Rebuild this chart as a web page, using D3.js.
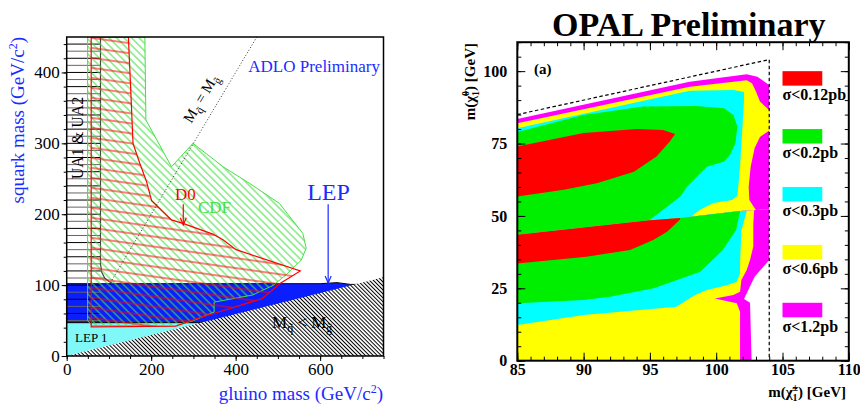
<!DOCTYPE html>
<html>
<head>
<meta charset="utf-8">
<style>
body { margin: 0; background: #fff; }
svg { display: block; }
text { font-family: "Liberation Serif", "Times New Roman", serif; }
</style>
</head>
<body>
<script src="https://cdn.jsdelivr.net/npm/d3@7"></script>
<script>
// ---------- left panel: squark / gluino mass plane (GeV/c^2) ----------
var lep1Zone   = [[0,0],[0,47],[318,47]];
var lepZone    = [[0,47],[0,102],[600,102],[640,103.5],[672,101],[690,101],[690,47]];
var forbidZone = [[0,0],[750,111],[750,0]];            // Mq < Mg
var uaZone     = [[0,47],[0,450],[80,450],[80,130],[83,118],[90,110],[100,105],[110,102],[80,102],[80,47]];
var uaEdge     = [[80,450],[80,130],[83,118],[90,110],[100,105],[110,102]];
var d0Zone = [[58,450],[146,450],[152,370],[157,300],[173,272],[189,246],[201,219],[248,192],
              [275,187],[346,172],[370,164],[401,150],[553,120],[506,102.5],[463,81],[348,60],
              [309,53],[258,42],[58,41]];
var cdfZone = [[49.5,450],[185,450],[187.5,333],[248,267],[299,300],[370,267],[433,243.5],
               [504,215],[559,173],[567,152],[555,135],[520,115],[490,100],[440,86],[349,76],
               [349,62],[300,50],[260,43],[60,43],[49.5,50]];
var diagLine = [[100,100],[450,450]];                  // Mq = Mg
var uaLevels = d3.range(50, 450, 10);
var xTicksL = [0,200,400,600], xMinorL = d3.range(0, 751, 50);
var yTicksL = [0,100,200,300,400], yMinorL = d3.range(0, 451, 20);

// ---------- right panel: OPAL chargino / neutralino (GeV) ----------
var splitEdge = [[85,43.5],[94.8,48.4],[97.3,49.3],[101.8,51.7],[104,52.3]];
var upMagenta = [[85,40],[85,83.5],[98,96.3],[102.3,98.9],[103.1,98.1],[104,95.2],[104,40]];
var upYellow  = [[85,40],[85,82],[98,94.6],[102.3,96.9],[102.7,95.8],[103,93],[103.3,89.5],[104,86.5],
                 [104,79.5],[103.3,77.3],[102.9,73.5],[102.6,67],[102.45,60],[102.5,55.5],[103,52],[103,40]];
var upCyan    = [[85,40],[85,80.3],[98,93.2],[101.3,93.5],[102.1,92.8],[102.1,90],[101.95,78.5],[101.8,67],
                 [101.6,57],[101.2,55.5],[99.8,54.5],[98.8,52.2],[98,49.5],[98,40]];
var upGreen   = [[85,40],[85,79],[90,84.9],[94.5,87.8],[98.5,88],[100.6,87.2],[101.3,84.9],[101.6,80.9],
                 [101.45,75.1],[101.05,71.1],[100.6,68.8],[99.3,67],[98.8,64.7],[97.8,60.1],[97.3,56.7],
                 [96,52.1],[94.9,48.3],[94.9,40]];
var upRed     = [[85,56.7],[85,74],[90,78.6],[94,80],[96,79.7],[96.9,78.3],[96.5,75.7],[95.5,70.5],
                 [93.8,65.3],[91,61.3],[88.5,59]];
var loMagenta = [[85,0],[85,55],[104,55],[104,34.8],[102.9,29],[102.3,23.3],[102.1,21.3],[102.55,20],[102.67,0]];
var loYellow  = [[85,0],[85,55],[102.9,55],[102.8,47.4],[102.8,39.4],[102.55,34.8],[102.3,31.3],[101.9,27.9],
                 [101.8,23.8],[101.3,22.7],[99.9,21.5],[101.55,19.8],[101.8,16.9],[101.8,0]];
var loCyan    = [[85,12.3],[85,55],[102.3,55],[102.3,51.5],[101.9,45.1],[101.8,33.6],[101.8,30.2],[101.55,27.3],
                 [100.8,26.1],[99.3,24.4],[98.4,22.7],[97,18.6],[94.25,17.5],[90,15.8]];
var loGreen   = [[85,19.8],[85,55],[101.8,55],[101.8,51.5],[101.5,45.1],[100.5,38.2],[98.8,30.7],[95.3,25],
                 [92,22.1],[90,21]];
var loRed     = [[85,33.6],[85,55],[97.5,55],[97.27,48.8],[96.3,44.5],[95.25,41.7],[93.5,38.2],[90.2,35.9]];
var limitLine = [[85,85],[104,104],[104,0]];
var sigmaColors = ["#ff0000","#00ee00","#00ffff","#ffff00","#ff00ff"];
var sigmaLabels = ["\u03c3<0.12pb","\u03c3<0.2pb","\u03c3<0.3pb","\u03c3<0.6pb","\u03c3<1.2pb"];
var legendTops  = [100,80,60,40,20];
var xTicksR = [85,90,95,100,105,110], yTicksR = [0,25,50,75,100];

var width = 860, height = 408;
var svg = d3.select("body").append("svg").attr("width", width).attr("height", height);
var defs = svg.append("defs");

function hatch(id, size, angle, color, sw, bg) {
  var p = defs.append("pattern").attr("id", id)
      .attr("patternUnits", "userSpaceOnUse")
      .attr("width", size).attr("height", size)
      .attr("patternTransform", "rotate(" + angle + ")");
  if (bg) p.append("rect").attr("width", size).attr("height", size).attr("fill", bg);
  p.append("line").attr("x1", 0).attr("x2", size).attr("y1", size / 2).attr("y2", size / 2)
      .attr("stroke", color).attr("stroke-width", sw);
}
hatch("hForbid", 2.8, 45, "#000", 1, "#fff");
hatch("hCdf", 5.3, 45, "#44e044", 1, null);
hatch("hD0", 9.9, 8, "#ff0000", 1, null);

// ===================== LEFT PANEL =====================
var xL = d3.scaleLinear().domain([0, 750]).range([66.7, 383.5]);
var yL = d3.scaleLinear().domain([0, 450]).range([356, 37]);
var lineL = d3.line().x(d => xL(d[0])).y(d => yL(d[1]));

defs.append("clipPath").attr("id", "clipL").append("rect")
    .attr("x", xL(0)).attr("y", yL(450)).attr("width", xL(750) - xL(0)).attr("height", yL(0) - yL(450));
defs.append("clipPath").attr("id", "clipUA").append("path").attr("d", lineL(uaZone) + "Z");

var gL = svg.append("g");
var plotL = gL.append("g").attr("clip-path", "url(#clipL)");

plotL.append("path").attr("d", lineL(lep1Zone) + "Z").attr("fill", "#80f8f8");
plotL.append("path").attr("d", lineL(lepZone) + "Z").attr("fill", "#0a1eff")
    .attr("stroke", "#000").attr("stroke-width", 1);

// UA1 & UA2 horizontal hatching
plotL.append("g").attr("clip-path", "url(#clipUA)")
  .selectAll("line").data(uaLevels).enter().append("line")
    .attr("x1", xL(0)).attr("x2", xL(120))
    .attr("y1", d => yL(d)).attr("y2", d => yL(d))
    .attr("stroke", (d, i) => i % 2 ? "#000" : "#666").attr("stroke-width", 1);
plotL.append("path").attr("d", lineL(uaEdge)).attr("fill", "none")
    .attr("stroke", "#444").attr("stroke-width", 1.2);

plotL.append("path").attr("d", lineL(forbidZone) + "Z").attr("fill", "url(#hForbid)");

plotL.append("path").attr("d", lineL(cdfZone) + "Z").attr("fill", "url(#hCdf)")
    .attr("stroke", "#44e044").attr("stroke-width", 1);
plotL.append("path").attr("d", lineL(d0Zone) + "Z").attr("fill", "url(#hD0)")
    .attr("stroke", "#ff0000").attr("stroke-width", 1.2);

plotL.append("path").attr("d", lineL(diagLine)).attr("fill", "none")
    .attr("stroke", "#333").attr("stroke-width", 1).attr("stroke-dasharray", "1,2");

// axes
function styleAxis(g, size, weight) {
  g.select(".domain").remove();
  g.selectAll("text").attr("font-family", "Liberation Serif, serif")
    .attr("font-size", size).attr("font-weight", weight).attr("fill", "#000");
  g.selectAll("line").attr("stroke", "#000");
}
gL.append("g").attr("transform", "translate(0," + yL(0) + ")")
  .call(d3.axisBottom(xL).tickValues(xMinorL).tickSize(3).tickFormat(""))
  .call(styleAxis, 17, "normal");
gL.append("g").attr("transform", "translate(0," + yL(0) + ")")
  .call(d3.axisBottom(xL).tickValues(xTicksL).tickSize(5).tickPadding(2))
  .call(styleAxis, 17, "normal");
gL.append("g").attr("transform", "translate(" + xL(0) + ",0)")
  .call(d3.axisLeft(yL).tickValues(yMinorL).tickSize(3).tickFormat(""))
  .call(styleAxis, 17, "normal");
gL.append("g").attr("transform", "translate(" + xL(0) + ",0)")
  .call(d3.axisLeft(yL).tickValues(yTicksL).tickSize(5).tickPadding(2))
  .call(styleAxis, 17, "normal");

gL.append("rect").attr("x", xL(0)).attr("y", yL(450))
  .attr("width", xL(750) - xL(0)).attr("height", yL(0) - yL(450))
  .attr("fill", "none").attr("stroke", "#000").attr("stroke-width", 1.5);

// labels
var blue = "#1a2cff";
var ylab = gL.append("text").attr("transform", "translate(24,37) rotate(-90)")
  .attr("text-anchor", "end").attr("font-size", 19).attr("fill", blue);
ylab.append("tspan").text("squark mass (GeV/c");
ylab.append("tspan").attr("dy", -7).attr("font-size", 12).text("2");
ylab.append("tspan").attr("dy", 7).text(")");

var xlab = gL.append("text").attr("x", 383).attr("y", 400)
  .attr("text-anchor", "end").attr("font-size", 19).attr("fill", blue);
xlab.append("tspan").text("gluino mass (GeV/c");
xlab.append("tspan").attr("dy", -7).attr("font-size", 12).text("2");
xlab.append("tspan").attr("dy", 7).text(")");

gL.append("text").attr("x", 380).attr("y", 72).attr("text-anchor", "end")
  .attr("font-size", 17).attr("fill", blue).text("ADLO Preliminary");
gL.append("text").attr("x", 328.5).attr("y", 200).attr("text-anchor", "middle")
  .attr("font-size", 24).attr("fill", blue).text("LEP");
gL.append("text").attr("x", 175).attr("y", 200).attr("font-size", 17).attr("fill", "#ff0000").text("D0");
gL.append("text").attr("x", 198).attr("y", 213).attr("font-size", 17).attr("fill", "#44e044").text("CDF");
gL.append("text").attr("x", 75).attr("y", 342).attr("font-size", 13).attr("fill", "#000").text("LEP 1");
gL.append("text").attr("transform", "translate(83,138) rotate(-90)").attr("text-anchor", "middle")
  .attr("font-size", 16).attr("fill", "#000").text("UA1 & UA2");

function arrow(g, x, y0, y1, color) {
  g.append("line").attr("x1", xL(x)).attr("x2", xL(x)).attr("y1", yL(y0)).attr("y2", yL(y1))
    .attr("stroke", color).attr("stroke-width", 1.2);
  g.append("path").attr("d", "M" + (xL(x) - 3) + "," + (yL(y1) - 7) + "L" + xL(x) + "," + yL(y1) +
      "L" + (xL(x) + 3) + "," + (yL(y1) - 7))
    .attr("fill", "none").attr("stroke", color).attr("stroke-width", 1.2);
}
arrow(gL, 619, 214, 103, blue);
arrow(gL, 276, 214, 185, "#ff0000");

var ang = Math.atan2(yL(100) - yL(0), xL(100) - xL(0)) * 180 / Math.PI;
var diagLab = gL.append("text").attr("transform", "translate(205,101) rotate(" + ang + ")")
  .attr("text-anchor", "middle").attr("font-size", 15).attr("fill", "#000");
diagLab.append("tspan").text("M");
diagLab.append("tspan").attr("dy", 4).attr("font-size", 11).text("q\u0303");
diagLab.append("tspan").attr("dy", -4).text(" = M");
diagLab.append("tspan").attr("dy", 4).attr("font-size", 11).text("g\u0303");

var ltLab = gL.append("text").attr("x", 272).attr("y", 328).attr("font-size", 17).attr("fill", "#000");
ltLab.append("tspan").text("M");
ltLab.append("tspan").attr("dy", 4).attr("font-size", 12).text("q\u0303");
ltLab.append("tspan").attr("dy", -4).text(" < M");
ltLab.append("tspan").attr("dy", 4).attr("font-size", 12).text("g\u0303");

// ===================== RIGHT PANEL =====================
var xR = d3.scaleLinear().domain([85, 110]).range([517.3, 848.8]);
var yR = d3.scaleLinear().domain([0, 110]).range([360.7, 42.2]);
var lineR = d3.line().x(d => xR(d[0])).y(d => yR(d[1]));

var upperClip = [[85,110]].concat(splitEdge).concat([[104,110]]);
var lowerClip = [[85,0]].concat(splitEdge).concat([[104,0]]);
defs.append("clipPath").attr("id", "clipUp").append("path").attr("d", lineR(upperClip) + "Z");
defs.append("clipPath").attr("id", "clipLo").append("path").attr("d", lineR(lowerClip) + "Z");

var gR = svg.append("g");
var upper = [upMagenta, upYellow, upCyan, upGreen, upRed];
var lower = [loMagenta, loYellow, loCyan, loGreen, loRed];
var fillOrder = [4, 3, 2, 1, 0];

gR.append("g").attr("clip-path", "url(#clipUp)")
  .selectAll("path").data(upper).enter().append("path")
  .attr("d", d => lineR(d) + "Z").attr("fill", (d, i) => sigmaColors[fillOrder[i]]);
gR.append("g").attr("clip-path", "url(#clipLo)")
  .selectAll("path").data(lower).enter().append("path")
  .attr("d", d => lineR(d) + "Z").attr("fill", (d, i) => sigmaColors[fillOrder[i]]);

gR.append("path").attr("d", lineR(limitLine)).attr("fill", "none")
  .attr("stroke", "#000").attr("stroke-width", 1.2).attr("stroke-dasharray", "3.5,2.5");

// legend
var leg = gR.selectAll(".leg").data(sigmaLabels).enter().append("g");
leg.append("rect").attr("x", xR(105)).attr("y", (d, i) => yR(legendTops[i]))
  .attr("width", xR(108) - xR(105)).attr("height", (d, i) => yR(legendTops[i] - 5) - yR(legendTops[i]))
  .attr("fill", (d, i) => sigmaColors[i]);
leg.append("text").attr("x", xR(105)).attr("y", (d, i) => yR(legendTops[i] - 10))
  .attr("font-size", 16).attr("font-weight", "bold").text(d => d);

// axes (ticks point inward)
function axR(axis, tr) {
  return gR.append("g").attr("transform", tr).call(axis).call(styleAxis, 16, "bold");
}
var atBottom = "translate(0," + yR(0) + ")", atTop = "translate(0," + yR(110) + ")";
var atLeft = "translate(" + xR(85) + ",0)", atRight = "translate(" + xR(110) + ",0)";
axR(d3.axisBottom(xR).tickValues(d3.range(85, 111, 1)).tickSize(-4).tickFormat(""), atBottom);
axR(d3.axisBottom(xR).tickValues(xTicksR).tickSize(-8).tickPadding(3), atBottom);
axR(d3.axisTop(xR).tickValues(d3.range(85, 111, 1)).tickSize(-4).tickFormat(""), atTop);
axR(d3.axisTop(xR).tickValues(xTicksR).tickSize(-8).tickFormat(""), atTop);
axR(d3.axisLeft(yR).tickValues(d3.range(0, 111, 5)).tickSize(-4).tickFormat(""), atLeft);
axR(d3.axisLeft(yR).tickValues(yTicksR).tickSize(-8).tickPadding(10), atLeft);
axR(d3.axisRight(yR).tickValues(d3.range(0, 111, 5)).tickSize(-4).tickFormat(""), atRight);
axR(d3.axisRight(yR).tickValues(yTicksR).tickSize(-8).tickFormat(""), atRight);

gR.append("rect").attr("x", xR(85)).attr("y", yR(110))
  .attr("width", xR(110) - xR(85)).attr("height", yR(0) - yR(110))
  .attr("fill", "none").attr("stroke", "#000").attr("stroke-width", 2);

gR.append("text").attr("x", 552).attr("y", 36).attr("font-size", 34).attr("font-weight", "bold")
  .text("OPAL Preliminary");
gR.append("text").attr("x", 534).attr("y", 74).attr("font-size", 15).attr("font-weight", "bold")
  .text("(a)");

var yl = gR.append("text").attr("transform", "translate(475,43) rotate(-90)")
  .attr("text-anchor", "end").attr("font-size", 15).attr("font-weight", "bold");
yl.append("tspan").text("m(\u03c7\u0303");
yl.append("tspan").attr("dy", 4).attr("font-size", 10).text("1");
yl.append("tspan").attr("dx", -5).attr("dy", -10).attr("font-size", 10).text("0");
yl.append("tspan").attr("dy", 6).text(") [GeV]");

var xl = gR.append("text").attr("x", 846).attr("y", 397)
  .attr("text-anchor", "end").attr("font-size", 15).attr("font-weight", "bold");
xl.append("tspan").text("m(\u03c7\u0303");
xl.append("tspan").attr("dy", 4).attr("font-size", 10).text("1");
xl.append("tspan").attr("dx", -5).attr("dy", -10).attr("font-size", 10).text("\u00b1");
xl.append("tspan").attr("dy", 6).text(") [GeV]");
</script>
</body>
</html>
